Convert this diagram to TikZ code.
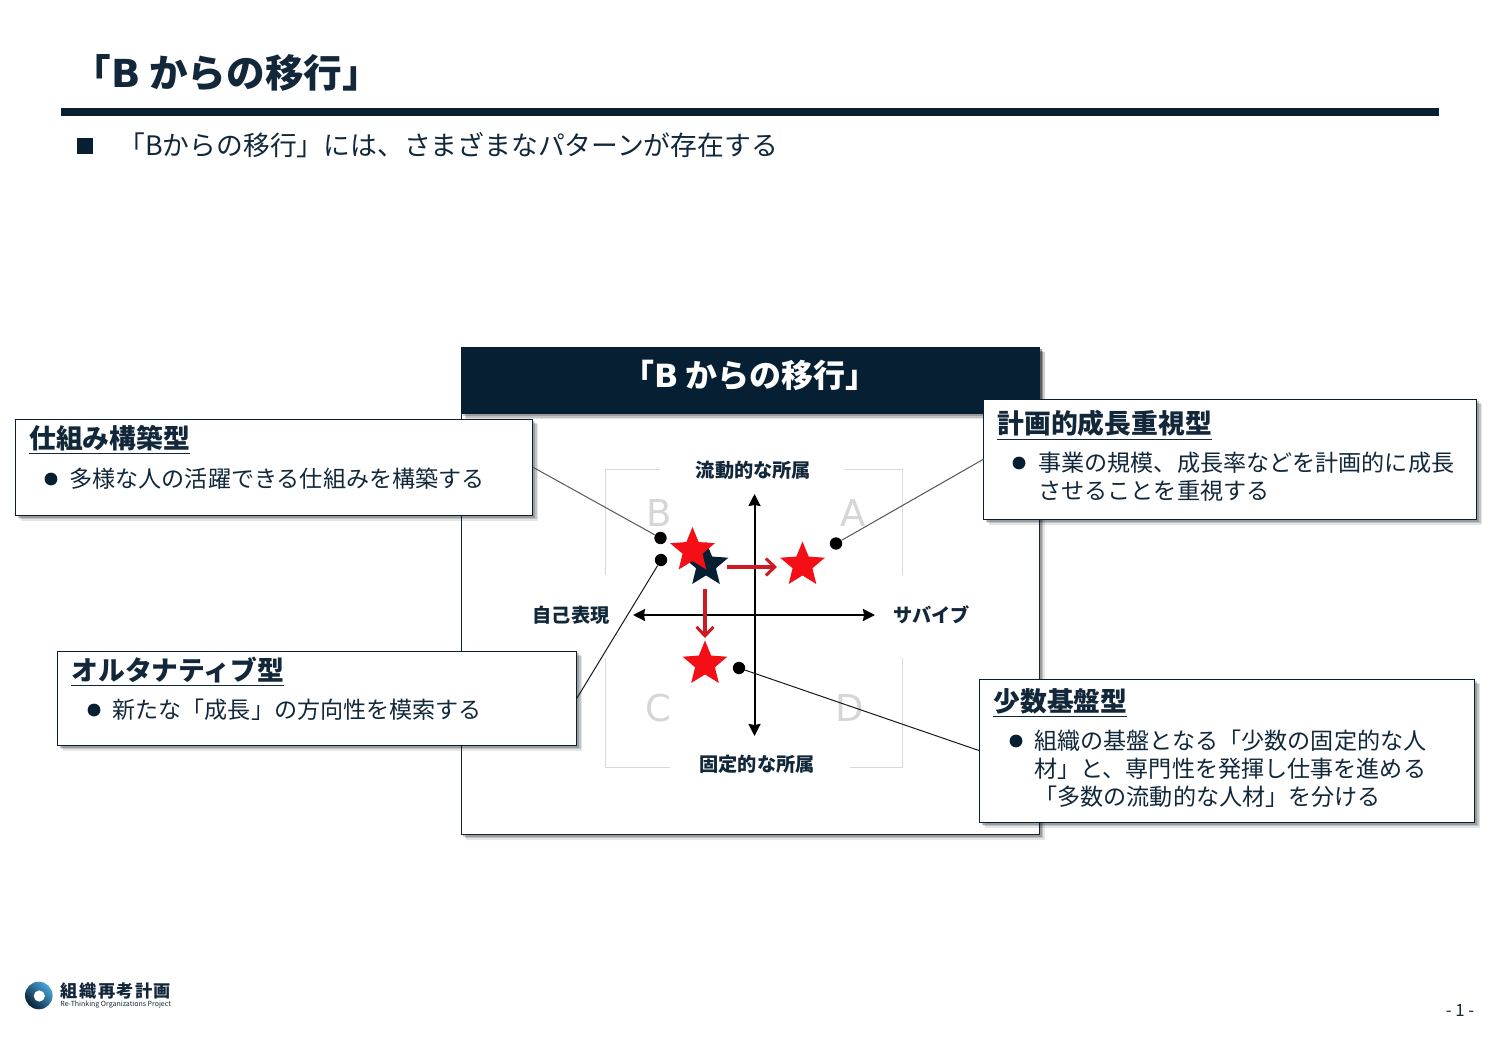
\documentclass[tikz,border=0pt]{standalone}
\usepackage{fontspec}
\setmainfont{Noto Sans CJK JP}
\newfontfamily\latinf{DejaVu Sans}
\usetikzlibrary{shapes.geometric,shadows,arrows.meta}
\definecolor{navy}{HTML}{061F33}
\definecolor{ink}{HTML}{12283A}
\definecolor{redstar}{HTML}{F40F16}
\definecolor{redarrow}{HTML}{CE1A20}
\definecolor{framegray}{HTML}{D9D9D9}
\definecolor{letter}{HTML}{D6D6D6}
\definecolor{logoblue}{HTML}{4BA8DE}
\tikzset{
  x=0.5pt,y=-0.5pt,
  softshadow/.style={
    drop shadow={shadow xshift=2.6pt,shadow yshift=-2.6pt,opacity=.10,fill=black},
    drop shadow={shadow xshift=1.9pt,shadow yshift=-1.9pt,opacity=.15,fill=black},
    drop shadow={shadow xshift=1.2pt,shadow yshift=-1.2pt,opacity=.2,fill=black}},
  calloutbox/.style={draw=navy,line width=.5pt,fill=white,softshadow,inner sep=0pt,outer sep=0pt},
  mainbox/.style={draw=ink,line width=.5pt,fill=white,softshadow,inner sep=0pt,outer sep=0pt},
  headbar/.style={fill=navy,softshadow,inner sep=0pt,outer sep=0pt},
  headtext/.style={anchor=west,inner sep=0pt,text=ink,font=\fontsize{13.4}{16}\selectfont\bfseries},
  bodytext/.style={anchor=west,inner sep=0pt,text=ink,align=left,font=\fontsize{11.55}{14}\selectfont},
  axislabel/.style={inner sep=0pt,text=ink,font=\fontsize{9.6}{12}\selectfont\bfseries},
  quadletter/.style={inner sep=0pt,text=letter,font=\latinf\fontsize{18.5}{20}\selectfont},
  bulletdot/.style={circle,fill=navy,inner sep=0pt,minimum size=6.4pt},
  pindot/.style={circle,fill=black,inner sep=0pt,minimum size=6.2pt},
  starmark/.style={star,star points=5,star point ratio=2.25,inner sep=0pt,minimum size=23.5pt},
  leader/.style={line width=.5pt,draw=black!65},
  leaderdark/.style={line width=.5pt,draw=black!90},
  axisline/.style={line width=1pt,black,{Stealth[length=6pt,width=6pt,inset=.5pt]}-{Stealth[length=6pt,width=6pt,inset=.5pt]}},
  movearrow/.style={line width=1.7pt,redarrow,-{Straight Barb[length=4.5pt,width=8.5pt,line width=1.5pt]}},
  quadframe/.style={line width=.4pt,framegray}
}
\begin{document}
\begin{tikzpicture}
\useasboundingbox (0,0) rectangle (1500,1038);
\fill[white] (0,0) rectangle (1500,1038);
% page title
\node[anchor=west,inner sep=0pt,text=ink,font=\fontsize{19.3}{23}\selectfont\bfseries] (title) at (72,73) {「{\latinf B} からの移行」};
\node[fill=navy,minimum width=689pt,minimum height=4pt,inner sep=0pt,anchor=west] (rule) at (61,112) {};
\node[fill=navy,minimum size=7.6pt,inner sep=0pt] (square) at (85,146) {};
\node[anchor=west,inner sep=0pt,text=ink,font=\fontsize{13.4}{16}\selectfont] (subtitle) at (118,145) {「Bからの移行」には、さまざまなパターンが存在する};
% main panel
\node[mainbox,minimum width=289.3pt,minimum height=243.7pt,anchor=north west] (panel) at (461,347) {};
\node[headbar,minimum width=289.3pt,minimum height=33.5pt,anchor=north west] (bar) at (461,347) {};
\node[text=white,inner sep=0pt,font=\fontsize{16}{19}\selectfont\bfseries] (bartext) at (750,375) {「{\latinf B} からの移行」};
% quadrant frame
\coordinate (f1) at (660,469.5); \coordinate (f2) at (605.5,469.5); \coordinate (f3) at (605.5,575);
\coordinate (f4) at (845,469.5); \coordinate (f5) at (902,469.5); \coordinate (f6) at (902,575);
\coordinate (f7) at (605.5,658); \coordinate (f8) at (605.5,767); \coordinate (f9) at (670,767);
\coordinate (f10) at (902,658); \coordinate (f11) at (902,767); \coordinate (f12) at (850,767);
\draw[quadframe] (f1) -- (f2) -- (f3);
\draw[quadframe] (f4) -- (f5) -- (f6);
\draw[quadframe] (f7) -- (f8) -- (f9);
\draw[quadframe] (f10) -- (f11) -- (f12);
\node[quadletter] (qB) at (659,513) {B};
\node[quadletter] (qA) at (853,513) {A};
\node[quadletter] (qC) at (658,708) {C};
\node[quadletter] (qD) at (850,708) {D};
% axes
\coordinate (vtop) at (754.5,494); \coordinate (vbot) at (754.5,736);
\coordinate (hleft) at (633,615); \coordinate (hright) at (875,615);
\draw[axisline] (vtop) -- (vbot);
\draw[axisline] (hleft) -- (hright);
\node[axislabel] (lt) at (753.5,470) {流動的な所属};
\node[axislabel] (lb) at (757,764) {固定的な所属};
\node[axislabel] (ll) at (571,615) {自己表現};
\node[axislabel] (lr) at (932,615) {サバイブ};
% stars
\node[starmark,fill=navy] (snavy) at (706,565) {};
\node[starmark,fill=redstar] (sb) at (692.5,550.5) {};
\node[starmark,fill=redstar] (sa) at (802.5,565) {};
\node[starmark,fill=redstar] (sc) at (705,664) {};
% red arrows
\coordinate (ra1) at (727,567); \coordinate (ra2) at (777,567);
\coordinate (rb1) at (705,589); \coordinate (rb2) at (705,638);
\draw[movearrow] (ra1) -- (ra2);
\draw[movearrow] (rb1) -- (rb2);
% pins
\node[pindot] (p1) at (660.5,538) {};
\node[pindot] (p2) at (661,560) {};
\node[pindot] (p3) at (836,543.5) {};
\node[pindot] (p4) at (739,668) {};
% callouts
\node[calloutbox,minimum width=258.7pt,minimum height=48.2pt,anchor=north west] (boxA) at (15.5,419) {};
\node[headtext] at (29,440) {\underline{仕組み構築型}};
\node[bulletdot] (bA) at (51,479) {};
\node[bodytext] (tA) at (69,479) {多様な人の活躍できる仕組みを構築する};
\node[calloutbox,minimum width=246.7pt,minimum height=60.2pt,anchor=north west] (boxB) at (983.5,399) {};
\node[headtext] at (997,425.5) {\underline{計画的成長重視型}};
\node[bulletdot] (bB) at (1019,463) {};
\node[bodytext] (tB) at (1038,476.5) {事業の規模、成長率などを計画的に成長\\させることを重視する};
\node[calloutbox,minimum width=259.7pt,minimum height=47.2pt,anchor=north west] (boxC) at (57.5,651) {};
\node[headtext] at (71,672) {\underline{オルタナティブ型}};
\node[bulletdot] (bC) at (94,710) {};
\node[bodytext] (tC) at (112,710) {新たな「成長」の方向性を模索する};
\node[calloutbox,minimum width=247.7pt,minimum height=71.7pt,anchor=north west] (boxD) at (979.5,679) {};
\node[headtext] at (993,703) {\underline{少数基盤型}};
\node[bulletdot] (bD) at (1016,741) {};
\node[bodytext] (tD) at (1034,768.5) {組織の基盤となる「少数の固定的な人\\材」と、専門性を発揮し仕事を進める\\「多数の流動的な人材」を分ける};
% leaders
\draw[leader] (boxA.east) -- (p1);
\draw[leader] (boxB.west) -- (p3);
\draw[leaderdark] (boxC.east) -- (p2);
\draw[leaderdark] (boxD.west) -- (p4);
% logo
\node[circle,inner sep=0pt,minimum size=13.8pt,shade,top color=logoblue,bottom color=navy,shading angle=-45] (logo) at (38.8,995.5) {};
\node[circle,fill=white,inner sep=0pt,minimum size=5.6pt] (logohole) at (39.3,996) {};
\node[anchor=west,inner sep=0pt,text=ink,font=\fontsize{8.6}{10}\selectfont\bfseries] (logoa) at (60.5,991) {組\hspace{.7pt}織\hspace{.7pt}再\hspace{.7pt}考\hspace{.7pt}計\hspace{.7pt}画};
\node[anchor=west,inner sep=0pt,text=ink,font=\fontsize{3.5}{4}\selectfont] (logob) at (60,1004.5) {Re-Thinking Organizations Project};
\node[inner sep=0pt,text=ink,font=\fontsize{8.4}{10}\selectfont] (pageno) at (1460,1011) {- 1 -};
\end{tikzpicture}
\end{document}
